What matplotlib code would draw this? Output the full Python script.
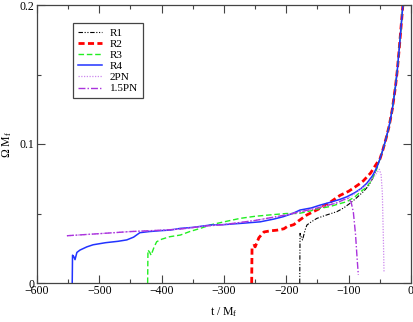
import numpy as np
import matplotlib
matplotlib.use('Agg')
from matplotlib import pyplot as plt

plt.rcParams['font.family'] = ['Liberation Serif', 'DejaVu Serif']
plt.rcParams['mathtext.fontset'] = 'custom'
plt.rcParams['mathtext.rm'] = 'Liberation Serif'
plt.rcParams['mathtext.it'] = 'Liberation Serif:italic'

# gemeinsamer Verlauf kurz vor dem Merger
t_tail = [-50, -45, -40, -35, -30, -25, -22, -19, -16, -13, -11]
w_tail = [0.089, 0.096, 0.104, 0.113, 0.125, 0.141, 0.153, 0.168, 0.184, 0.200, 0.215]

# R1
t_r1 = [-178.5, -178, -176, -174, -170, -167, -160, -151, -135, -119, -108, -98, -88, -76.5, -68, -60, -55]
w_r1 = [0.0, 0.0357, 0.033, 0.031, 0.038, 0.0417, 0.044, 0.0465, 0.049, 0.0513, 0.054, 0.0573, 0.061,
        0.0657, 0.070, 0.0765, 0.083]

# R2
t_r2 = [-255.6, -255, -252, -250, -244, -236, -226, -215, -204, -199, -188, -181, -167, -146, -130, -114,
        -100, -90, -82, -76.5, -65, -55]
w_r2 = [0.0, 0.026, 0.027, 0.026, 0.0326, 0.0367, 0.0375, 0.038, 0.039, 0.0405, 0.042, 0.0445, 0.049,
        0.0537, 0.058, 0.063, 0.066, 0.069, 0.0715, 0.0735, 0.079, 0.086]

# R3
t_r3 = [-422.5, -422, -419, -417, -412, -408, -400, -387, -370, -355, -338, -320, -300, -274, -250, -226,
        -200, -180, -160, -146, -130, -115, -103, -90, -80, -71, -62, -55]
w_r3 = [0.0, 0.0237, 0.022, 0.020, 0.026, 0.0297, 0.0315, 0.0333, 0.0345, 0.037, 0.0393, 0.042, 0.044,
        0.0465, 0.048, 0.049, 0.050, 0.050, 0.052, 0.0537, 0.055, 0.057, 0.0585, 0.062, 0.066, 0.069,
        0.075, 0.082]

# R4
t_r4 = [-543.5, -543, -541, -539, -536, -531, -520, -510, -490, -470, -456, -445, -435, -420, -403, -386,
        -370, -350, -322, -300, -270, -242, -220, -205, -190, -178, -160, -146, -130, -115, -103, -90,
        -80, -71, -62, -55]
w_r4 = [0.0, 0.020, 0.019, 0.0168, 0.022, 0.0237, 0.026, 0.0275, 0.029, 0.030, 0.031, 0.033, 0.0362,
        0.037, 0.0376, 0.0381, 0.0393, 0.040, 0.0417, 0.042, 0.043, 0.044, 0.046, 0.0477, 0.050, 0.0525,
        0.054, 0.056, 0.058, 0.060, 0.062, 0.065, 0.068, 0.0717, 0.077, 0.083]

# 2PN
t_2pn = [-552, -500, -450, -400, -370, -330, -300, -250, -200, -150, -120, -100, -85, -70, -60, -50.8,
         -48, -46, -45, -44, -43.3]
w_2pn = [0.034, 0.0355, 0.037, 0.038, 0.0388, 0.041, 0.042, 0.045, 0.049, 0.054, 0.0575, 0.061, 0.066,
         0.071, 0.076, 0.0818, 0.078, 0.065, 0.045, 0.025, 0.008]

# 1.5PN
t_15pn = [-552, -500, -450, -400, -370, -330, -300, -250, -200, -150, -120, -105, -100.5, -96, -92.5,
          -89, -86.5, -84.5]
w_15pn = [0.034, 0.0355, 0.037, 0.038, 0.0388, 0.041, 0.042, 0.045, 0.049, 0.054, 0.0575, 0.0605, 0.061,
          0.058, 0.051, 0.035, 0.018, 0.0058]

fig = plt.figure(figsize=(4.14, 3.22), dpi=100)
ax = fig.add_axes([37 / 414, 39 / 322, 374 / 414, 278 / 322])

ax.plot(t_r1 + t_tail, w_r1 + w_tail, color='black', lw=0.8, ls=(0, (4, 1.5, 1, 1.5, 1, 1.5)), label='R1')
ax.plot(t_r2 + t_tail, w_r2 + w_tail, color='red', lw=2.0, ls=(0, (2.2, 1.2)), label='R2')
ax.plot(t_r3 + t_tail, w_r3 + w_tail, color='#22ee22', lw=1.0, ls=(0, (4, 2)), label='R3')
ax.plot(t_r4 + t_tail, w_r4 + w_tail, color='#2233ff', lw=1.1, ls='-', label='R4')
ax.plot(t_2pn, w_2pn, color='#cc88ee', lw=0.9, ls=(0, (1, 1.2)), label='2PN')
ax.plot(t_15pn, w_15pn, color='#aa33dd', lw=1.0, ls=(0, (5, 1.5, 1, 1.5)), label='1.5PN')

ax.set_xlim(-600, 0)
ax.set_ylim(0, 0.2)
ax.set_xticks(np.arange(-600, 1, 100))
ax.set_xticks(np.arange(-550, 0, 100), minor=True)
ax.set_yticks([0, 0.1, 0.2])
ax.set_yticks([0.05, 0.15], minor=True)
ax.set_yticklabels(['0', '0.1', '0.2'])
ax.tick_params(which='both', direction='in', top=True, right=True, labelsize=8.5,
               color='#444444')
ax.tick_params(axis='x', pad=1.5)
ax.tick_params(axis='y', pad=2)
ax.tick_params(which='major', length=5.5, width=0.8)
ax.tick_params(which='minor', length=3, width=0.8)
for s in ax.spines.values():
    s.set_color('#444444')
    s.set_linewidth(0.9)

ax.set_xlabel(r't / M$_\mathrm{f}$', fontsize=8.5, labelpad=6)
ax.set_ylabel(r'$\Omega$ M$_\mathrm{f}$', fontsize=8.5, labelpad=4)

leg = ax.legend(loc='upper left', bbox_to_anchor=(0.095, 0.935), fontsize=8, frameon=True,
                fancybox=False, edgecolor='#444444', framealpha=1, handlelength=2.2,
                labelspacing=0.12, borderpad=0.45, handletextpad=0.7, borderaxespad=0)
leg.get_frame().set_linewidth(0.9)

fig.savefig('out.png', dpi=100)
